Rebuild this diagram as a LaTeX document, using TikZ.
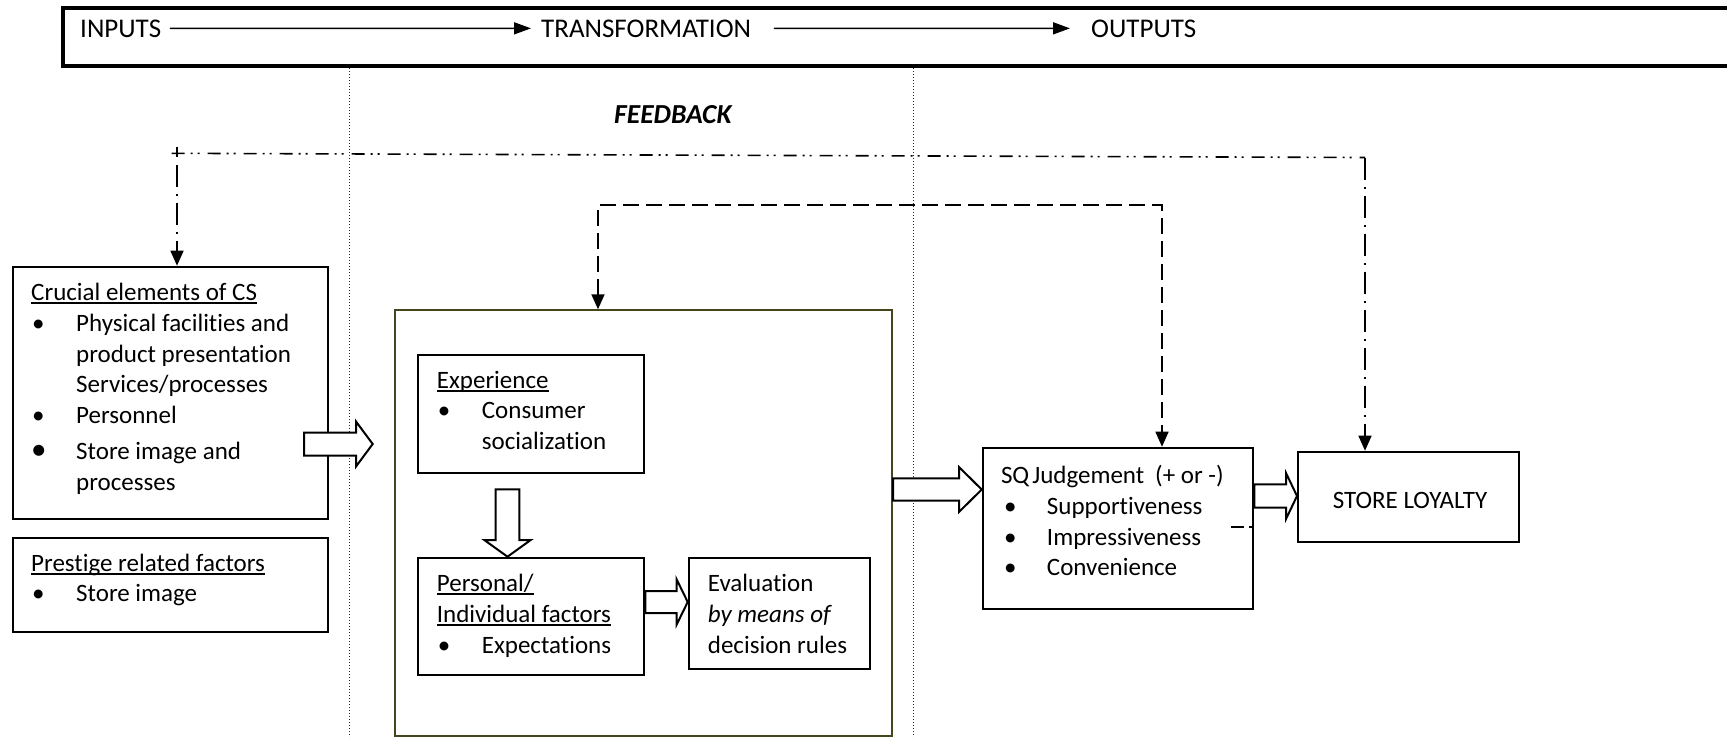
\documentclass[tikz,border=0pt]{standalone}
\usepackage{fontspec}
\setmainfont{Carlito}[Ligatures=NoCommon]
\usetikzlibrary{arrows.meta,calc}
\newcommand\uln[1]{\setbox0\hbox{#1}\rlap{\rule[-3.5pt]{\wd0}{1.6pt}}\box0}
\newcommand\bigbul{{\fontsize{31}{31}\selectfont\textbullet}}
\newcommand\hblock[5]{\draw[blk] let \p1=(#1), \p2=(#2) in
  (\x1,{\y1+#3pt}) -- ({\x2-#5pt},{\y1+#3pt}) -- ({\x2-#5pt},{\y1+#4pt}) -- (\x2,\y1)
  -- ({\x2-#5pt},{\y1-#4pt}) -- ({\x2-#5pt},{\y1-#3pt}) -- (\x1,{\y1-#3pt}) -- cycle;}
\newcommand\vblock[5]{\draw[blk] let \p1=(#1), \p2=(#2) in
  ({\x1-#3pt},\y1) -- ({\x1-#3pt},{\y2+#5pt}) -- ({\x1-#4pt},{\y2+#5pt}) -- (\x1,\y2)
  -- ({\x1+#4pt},{\y2+#5pt}) -- ({\x1+#3pt},{\y2+#5pt}) -- ({\x1+#3pt},\y1) -- cycle;}
\definecolor{olivebox}{RGB}{70,70,28}
\tikzset{fbtip/.tip={Triangle[length=15pt,width=13pt]}}
\begin{document}
\begin{tikzpicture}[x=1pt,y=-1pt,
  box/.style={draw, line width=2pt, inner sep=0, anchor=north west},
  txt/.style={inner sep=0, anchor=base west, font=\fontsize{25}{30.8}\selectfont},
  toptxt/.style={inner sep=0, anchor=base west, font=\fontsize{27}{32}\selectfont},
  toparr/.style={line width=1.6pt, -{Triangle[length=17pt,width=12pt]}},
  dotl/.style={line width=1pt, dash pattern=on 1pt off 2pt, black!85},
  fbline/.style={line width=1.6pt, dash pattern=on 13pt off 6pt on 2pt off 5pt on 2pt off 8pt},
  fbvline/.style={line width=1.6pt, dash pattern=on 22pt off 7pt on 2pt off 7pt},
  dline/.style={line width=1.6pt, dash pattern=on 16pt off 7pt},
  blk/.style={draw, fill=white, line width=2pt, line join=miter}]
\useasboundingbox (0,0) rectangle (1727,737);

% top band
\draw[line width=3.2pt] (63,8) rectangle (1750,66);
\node[toptxt] (inputs) at (80,37) {INPUTS};
\node[toptxt] (transf) at (541,37) {TRANSFORMATION};
\node[toptxt] (outputs) at (1091,37) {OUTPUTS};
\draw[toparr, shorten <=8.5pt, shorten >=10pt] (inputs.east) -- (transf.west);
\draw[toparr, shorten <=22.5pt, shorten >=21pt] (transf.east) -- (outputs.west);

% dotted separators
\draw[dotl] (349.5,68) -- (349.5,737);
\draw[dotl] (913,68) -- (913,737);

% FEEDBACK label
\node[inner sep=0, anchor=base east, font=\fontsize{27.5}{30}\selectfont\bfseries\itshape] (fb) at (731.7,123.5) {FEEDBACK};

% boxes
\node[box, minimum width=315.6pt, minimum height=252.6pt] (crucial) at (11.7,265.7) {};
\node[box, minimum width=315.6pt, minimum height=94.3pt] (prestige) at (11.7,536.7) {};
\node[box, draw=olivebox, minimum width=497pt, minimum height=425.7pt] (big) at (394,309.3) {};
\node[box, minimum width=226pt, minimum height=117.7pt] (exper) at (417.3,354) {};
\node[box, minimum width=226pt, minimum height=117.6pt] (personal) at (417.3,556.7) {};
\node[box, minimum width=181.3pt, minimum height=111pt] (eval) at (687.7,556.7) {};
\node[box, minimum width=270.6pt, minimum height=161.6pt] (sq) at (981.7,446.7) {};
\node[box, minimum width=220.7pt, minimum height=90pt] (sl) at (1297,450.7) {};

% texts
\node[txt] (crucialt) at (31,300.5) {\begin{tabular}[t]{@{}p{45pt}@{}l@{}}
\multicolumn{2}{@{}l@{}}{\uln{Crucial elements of CS}}\\
\hspace*{1pt}\textbullet & Physical facilities and\\
 & product presentation\\
 & Services/processes\\
\hspace*{1pt}\textbullet & Personnel\\[5pt]
\bigbul & Store image and\\
 & processes
\end{tabular}};
\node[txt] (prestiget) at (31,571) {\begin{tabular}[t]{@{}p{45pt}@{}l@{}}
\multicolumn{2}{@{}l@{}}{\uln{Prestige related factors}}\\
\hspace*{1pt}\textbullet & Store image
\end{tabular}};
\node[txt] (expert) at (436.7,388) {\begin{tabular}[t]{@{}p{45pt}@{}l@{}}
\multicolumn{2}{@{}l@{}}{\uln{Experience}}\\
\hspace*{1pt}\textbullet & Consumer\\
 & socialization
\end{tabular}};
\node[txt] (personalt) at (436.7,591.5) {\begin{tabular}[t]{@{}p{45pt}@{}l@{}}
\multicolumn{2}{@{}l@{}}{\uln{Personal/}}\\
\multicolumn{2}{@{}l@{}}{\uln{Individual factors}}\\
\hspace*{1pt}\textbullet & Expectations
\end{tabular}};
\node[txt] (evalt) at (707.7,591.5) {\begin{tabular}[t]{@{}l@{}}
Evaluation\\
\textit{by means of}\\
decision rules
\end{tabular}};
\node[txt] (sqt) at (1000.8,483.5) {\begin{tabular}[t]{@{}p{46pt}@{}l@{}}
\multicolumn{2}{@{}l@{}}{SQ\hspace{3pt}Judgement\hspace{11pt}(+ or -)}\\
\hspace*{3pt}\textbullet & Supportiveness\\
\hspace*{3pt}\textbullet & Impressiveness\\
\hspace*{3pt}\textbullet & Convenience
\end{tabular}};
\node[txt, anchor=base] (slt) at (1410,508) {STORE LOYALTY};

% feedback connectors
\coordinate (fbS) at (171.7,153.3);
\coordinate (fbL) at (177,146.7);
\coordinate (fbR) at (1365,157.5);
\draw[fbline] (fbS) -- (fbR);
\draw[fbvline, -{fbtip}] (fbR) -- (fbR |- sl.north);
\draw[line width=1.6pt] (fbL) -- ++(0,10);
\draw[fbvline, -{fbtip}] ([yshift=-18pt]fbL) -- (fbL |- crucial.north);

\coordinate (dL) at (598,205);
\coordinate (dR) at (1162,205);
\draw[dline, {fbtip}-{fbtip}] (dL |- big.north) -- (dL) -- (dR) -- (dR |- sq.north);

% block arrows
\coordinate (a1s) at (304,444);
\coordinate (a1e) at (372.7,444);
\hblock{a1s}{a1e}{11.5}{22.5}{16.7}
\coordinate (a2s) at (507.5,489.3);
\vblock{a2s}{a2s |- personal.north}{11.8}{23.2}{16.7}
\hblock{personal.east |- 0,602}{eval.west |- 0,602}{11}{22.5}{11}
\hblock{big.east |- 0,489.5}{sq.west |- 0,489.5}{11.2}{22.5}{22.7}
\hblock{sq.east |- 0,496}{sl.west |- 0,496}{11.6}{23}{11}

% small stray mark
\draw[line width=1.6pt] (1231,527) -- (1244,527);
\draw[line width=1.6pt] (1249,527) -- (1251.5,527);
\end{tikzpicture}
\end{document}
